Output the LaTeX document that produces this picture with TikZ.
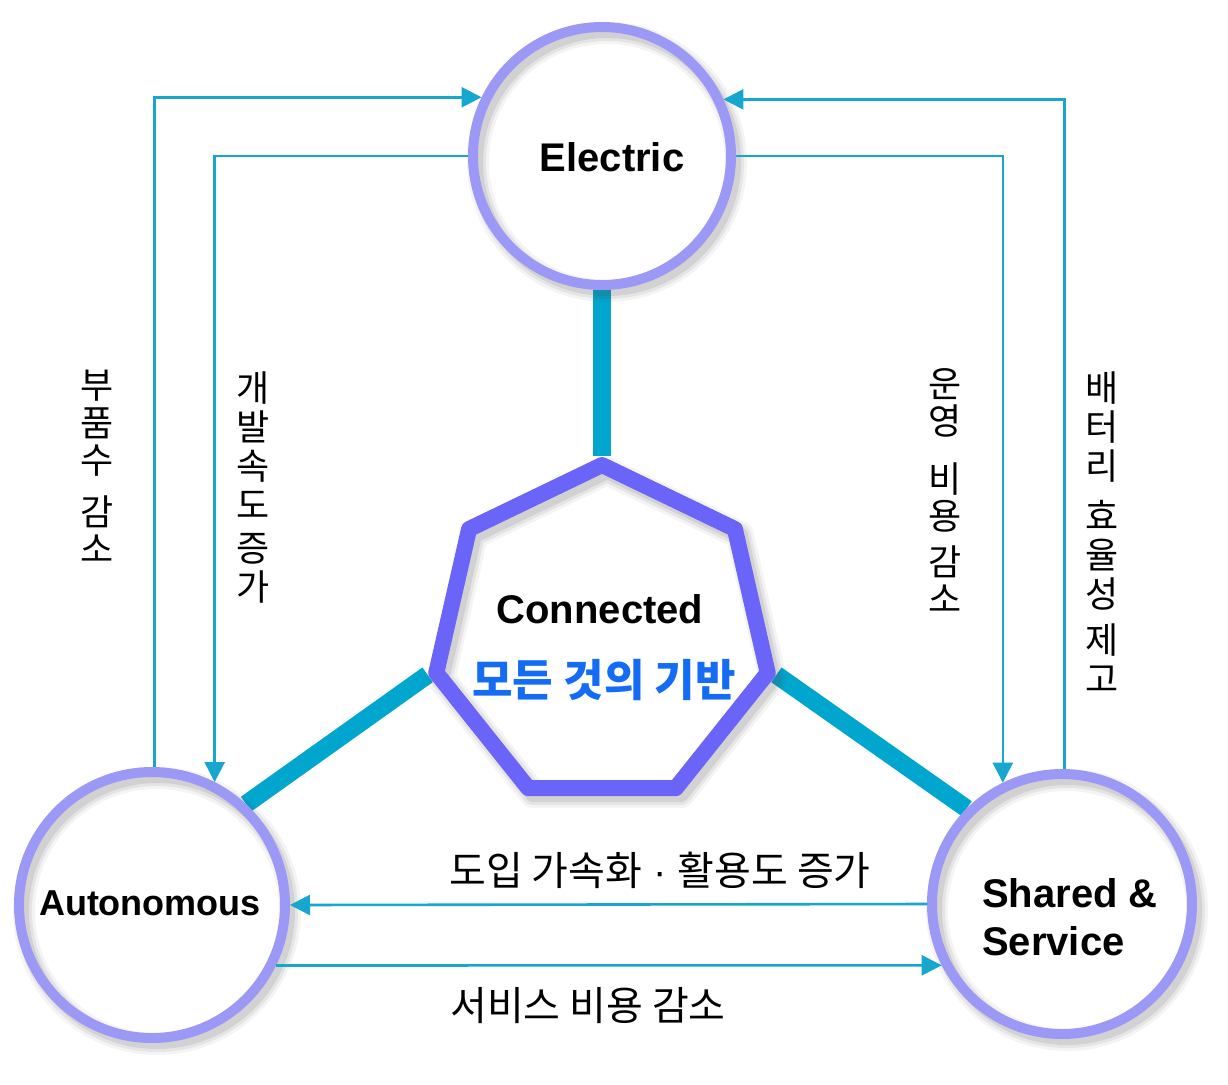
\documentclass[tikz,border=0pt]{standalone}
\usepackage{fontspec}
\setmainfont{Liberation Sans}
\newfontfamily\kr{Noto Sans CJK KR}
\usetikzlibrary{shapes.geometric,arrows.meta}
\definecolor{ringc}{RGB}{156,152,245}
\definecolor{heptc}{RGB}{106,100,248}
\definecolor{thickc}{RGB}{0,166,206}
\definecolor{thinc}{RGB}{22,166,206}
\definecolor{bluetxt}{RGB}{20,108,245}
\pgfdeclarelayer{bg}
\pgfsetlayers{bg,main}
\tikzset{
  ringnode/.style={circle, minimum size=#1, inner sep=0pt, outer sep=2.5pt,
    preaction={fill=white},
    preaction={draw=black!70, draw opacity=0.06, line width=11pt, transform canvas={shift={(2.5pt,-3pt)}}},
    preaction={draw=black!70, draw opacity=0.09, line width=8pt, transform canvas={shift={(2.5pt,-3pt)}}},
    preaction={draw=black!70, draw opacity=0.12, line width=5pt, transform canvas={shift={(2.5pt,-3pt)}}},
    draw=ringc, line width=5pt},
  heptnode/.style={regular polygon, regular polygon sides=7, minimum size=170pt, inner sep=0pt, line join=round,
    preaction={fill=white},
    preaction={draw=black!70, draw opacity=0.06, line width=14pt, line join=round, transform canvas={shift={(2.5pt,-3pt)}}},
    preaction={draw=black!70, draw opacity=0.09, line width=11pt, line join=round, transform canvas={shift={(2.5pt,-3pt)}}},
    preaction={draw=black!70, draw opacity=0.12, line width=8pt, line join=round, transform canvas={shift={(2.5pt,-3pt)}}},
    draw=heptc, line width=8pt},
  lbl/.style={font=\bfseries\fontsize{20pt}{24pt}\selectfont, inner sep=0pt},
  krv/.style={font=\kr\fontsize{18pt}{#1}\selectfont, align=center, inner sep=0pt},
  krh/.style={font=\kr\fontsize{20pt}{22pt}\selectfont, inner sep=0pt},
  thickconn/.style={draw=thickc, line width=9pt},
  arr/.style={draw=thinc, line width=1.3pt, -{Triangle[length=10pt,width=10pt]}}
}
\begin{document}
\begin{tikzpicture}[x=0.5pt,y=-0.5pt]
\useasboundingbox (0,0) rectangle (1228,1084);
% main shapes
\node[ringnode=129pt] (E) at (602,156) {};
\node[ringnode=133pt] (A) at (152,905) {};
\node[ringnode=130pt] (S) at (1062,904) {};
\node[heptnode] (H) at (602,635) {};
% texts
\node[lbl] (Et) at (612,157.5) {Electric};
\node[lbl] (Ct) at (600,609) {Connected};
\node[font=\kr\bfseries\fontsize{22pt}{26pt}\selectfont, text=bluetxt, inner sep=0pt] (Kt) at (604,680) {모든 것의 기반};
\node[lbl, font=\bfseries\fontsize{18pt}{22pt}\selectfont] (At) at (150,903) {Autonomous};
\node[lbl, align=left] (St) at (1070,917.5) {Shared \&\\Service};
% thick connectors
\begin{pgfonlayer}{bg}
\draw[thickconn] (E.south) -- (H.corner 1);
\draw[thickconn] (H.corner 3) -- (A.47);
\draw[thickconn] (H.corner 6) -- (S.135);
\end{pgfonlayer}
% thin arrows
\draw[arr] (A.89) |- (E.154);
\draw[arr] (E.west) -| (A.63);
\draw[arr] (E.east) -| (S.116);
\draw[arr] (S.89) |- (E.25);
\draw[arr] (S.west) -- (A.east);
\draw[arr] (A.-26) -- (S.207);
% labels
\node[krv=18.75pt] (L1) at (97,466.5) {부\\품\\수\\[7pt]감\\소};
\node[krv=19.5pt] (L2) at (253,487.5) {개\\발\\속\\도\\[2pt]증\\가};
\node[krv=18.75pt] (L3) at (945,490.5) {운\\영\\[10pt]비\\용\\[4pt]감\\소};
\node[krv=19.5pt] (L4) at (1102,532) {배\\터\\리\\[5.5pt]효\\율\\성\\[3.5pt]제\\고};
\node[krh] (L5) at (660,870.5) {도입 가속화{\rmfamily\ ·\ }활용도 증가};
\node[krh] (L6) at (588,1006) {서비스 비용 감소};
\end{tikzpicture}
\end{document}
